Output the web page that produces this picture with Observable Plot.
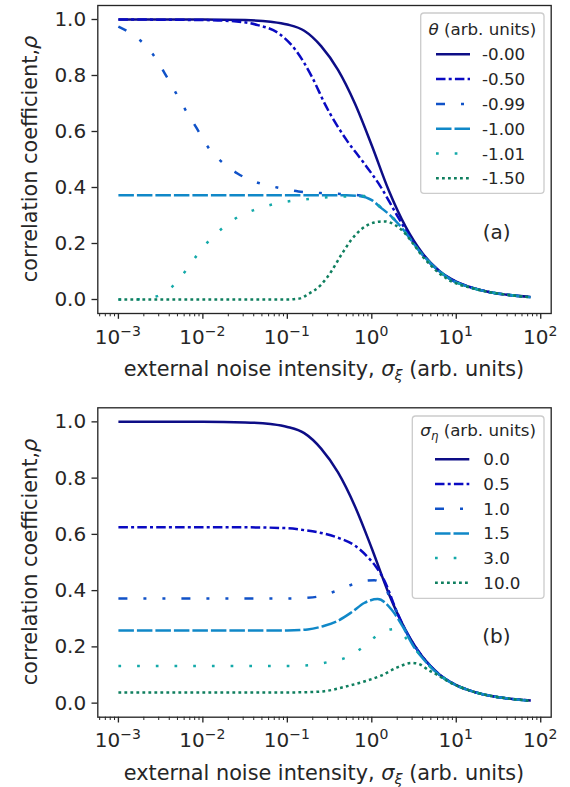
<!DOCTYPE html>
<html><head><meta charset="utf-8">
<script src="https://cdn.jsdelivr.net/npm/d3@7"></script>
<script src="https://cdn.jsdelivr.net/npm/@observablehq/plot@0.6"></script>
<style>
body{margin:0;background:#fff;}
#chart svg{display:block;}
</style></head><body><div id="chart"></div>
<script>
// ---------- data (x given as log10 of sigma_xi) ----------
const xMajor = [1e-3, 1e-2, 1e-1, 1, 10, 100];
const xMajorExp = ["\u22123", "\u22122", "\u22121", "0", "1", "2"];
const yTicks = [0, 0.2, 0.4, 0.6, 0.8, 1.0];

const thetaLabels = ["-0.00", "-0.50", "-0.99", "-1.00", "-1.01", "-1.50"];
const etaLabels = ["0.0", "0.5", "1.0", "1.5", "3.0", "10.0"];
const seriesColors = ["#0d0d86", "#0a0ac2", "#1052c8", "#1088c8", "#13a9a9", "#0f7f5f"];
const seriesDashes = [null, "9.5,3.2,3,3.2", "9,16,3,16,3,16", "15.5,3", "2.7,16", "2.8,3.2"];

// panel (a)
const a0_lx = [-3, -2, -1.5, -1.2, -1.0, -0.8, -0.6, -0.4, -0.2, 0, 0.2, 0.4, 0.6, 0.8, 1.0, 1.2, 1.4, 1.6, 1.88];
const a0_y  = [1.0, 1.0, 0.998, 0.992, 0.982, 0.96, 0.905, 0.82, 0.70, 0.55, 0.39, 0.26, 0.165, 0.102, 0.064, 0.041, 0.026, 0.017, 0.009];
const a1_lx = [-3, -2, -1.6, -1.35, -1.1, -0.9, -0.7, -0.55, -0.3, -0.1, 0.1, 0.3, 0.47, 0.6, 0.8, 1.0, 1.2, 1.4, 1.6, 1.88];
const a1_y  = [1.0, 0.998, 0.993, 0.98, 0.95, 0.89, 0.79, 0.695, 0.57, 0.49, 0.405, 0.30, 0.215, 0.16, 0.1, 0.063, 0.041, 0.026, 0.017, 0.009];
const a2_lx = [-3, -2.74, -2.59, -2.45, -2.32, -2.21, -2.07, -1.94, -1.79, -1.59, -1.35, -1.12, -0.87, -0.6, -0.37, -0.15, 0, 0.1, 0.23, 0.39, 0.55, 0.71, 0.9, 1.18, 1.4, 1.6, 1.88];
const a2_y  = [0.975, 0.925, 0.875, 0.807, 0.738, 0.679, 0.61, 0.545, 0.495, 0.45, 0.417, 0.40, 0.386, 0.38, 0.377, 0.372, 0.355, 0.33, 0.297, 0.243, 0.178, 0.125, 0.078, 0.042, 0.026, 0.017, 0.008];
const a3_lx = [-3, -1, -0.3, -0.15, 0, 0.1, 0.23, 0.39, 0.55, 0.71, 0.9, 1.18, 1.4, 1.6, 1.88];
const a3_y  = [0.372, 0.372, 0.372, 0.37, 0.355, 0.33, 0.297, 0.243, 0.178, 0.125, 0.078, 0.042, 0.026, 0.017, 0.008];
const a4_lx = [-3, -2.75, -2.54, -2.36, -2.21, -2.08, -1.94, -1.78, -1.6, -1.39, -1.17, -0.96, -0.74, -0.52, -0.29, -0.1, 0, 0.1, 0.23, 0.39, 0.55, 0.71, 0.9, 1.18, 1.4, 1.6, 1.88];
const a4_y  = [0.0, 0.001, 0.012, 0.047, 0.10, 0.154, 0.206, 0.252, 0.292, 0.32, 0.34, 0.352, 0.359, 0.365, 0.368, 0.37, 0.356, 0.331, 0.297, 0.243, 0.178, 0.125, 0.078, 0.042, 0.026, 0.017, 0.008];
const a5_lx = [-3, -1, -0.85, -0.76, -0.6, -0.48, -0.36, -0.24, -0.12, 0.03, 0.15, 0.27, 0.39, 0.5, 0.59, 0.71, 0.9, 1.18, 1.4, 1.6, 1.88];
const a5_y  = [0.0, 0.0, 0.004, 0.018, 0.053, 0.10, 0.16, 0.214, 0.252, 0.275, 0.279, 0.267, 0.237, 0.195, 0.158, 0.118, 0.072, 0.041, 0.026, 0.017, 0.008];

// panel (b)
const b0_lx = [-3, -2, -1.5, -1.2, -1.0, -0.8, -0.6, -0.4, -0.2, 0, 0.2, 0.4, 0.6, 0.8, 1.0, 1.2, 1.4, 1.6, 1.88];
const b0_y  = [1.0, 1.0, 0.998, 0.992, 0.982, 0.96, 0.905, 0.82, 0.70, 0.55, 0.39, 0.26, 0.165, 0.102, 0.064, 0.041, 0.026, 0.017, 0.009];
const b1_lx = [-3, -1.5, -1, -0.8, -0.6, -0.4, -0.2, -0.05, 0.05, 0.15, 0.3, 0.4, 0.6, 0.8, 1.0, 1.2, 1.4, 1.6, 1.88];
const b1_y  = [0.625, 0.625, 0.622, 0.615, 0.605, 0.588, 0.56, 0.52, 0.485, 0.435, 0.322, 0.258, 0.165, 0.102, 0.064, 0.041, 0.026, 0.017, 0.009];
const b2_lx = [-3, -1, -0.7, -0.45, -0.22, -0.05, 0.03, 0.1, 0.16, 0.22, 0.3, 0.4, 0.6, 0.8, 1.0, 1.2, 1.4, 1.6, 1.88];
const b2_y  = [0.372, 0.372, 0.376, 0.396, 0.423, 0.436, 0.437, 0.428, 0.41, 0.37, 0.322, 0.258, 0.165, 0.102, 0.064, 0.041, 0.026, 0.017, 0.009];
const b3_lx = [-3, -1, -0.76, -0.56, -0.4, -0.24, -0.09, 0.07, 0.23, 0.37, 0.49, 0.61, 0.8, 1.0, 1.2, 1.4, 1.6, 1.88];
const b3_y  = [0.258, 0.258, 0.262, 0.275, 0.293, 0.323, 0.356, 0.37, 0.334, 0.27, 0.204, 0.157, 0.1, 0.063, 0.041, 0.026, 0.017, 0.008];
const b4_lx = [-3, -1, -0.74, -0.52, -0.29, -0.1, 0.06, 0.18, 0.28, 0.43, 0.55, 0.7, 0.85, 1.0, 1.2, 1.4, 1.6, 1.88];
const b4_y  = [0.132, 0.132, 0.135, 0.146, 0.164, 0.2, 0.24, 0.26, 0.263, 0.222, 0.18, 0.126, 0.09, 0.063, 0.041, 0.026, 0.017, 0.008];
const b5_lx = [-3, -1, -0.76, -0.56, -0.32, -0.09, 0.11, 0.31, 0.47, 0.55, 0.67, 0.79, 0.9, 1.0, 1.2, 1.4, 1.6, 1.88];
const b5_y  = [0.038, 0.038, 0.039, 0.0425, 0.058, 0.077, 0.098, 0.128, 0.143, 0.14, 0.118, 0.098, 0.078, 0.063, 0.041, 0.026, 0.017, 0.008];

// ---------- drawing ----------
const FONT = "'DejaVu Sans', sans-serif";
const INK = "#262626";
const LEFT = 97.3, RIGHT = 550.7, W = 570;
const LABEL_SIZE = 20.8;

function rows(lx, y) { return lx.map((l, i) => ({x: Math.pow(10, l), y: y[i]})); }

function panel(cfg) {
  const minor = [];
  for (let k = -4; k <= 2; k++) for (let m = 2; m <= 9; m++) {
    const v = m * Math.pow(10, k);
    if (v > Math.pow(10, -3.244) && v < Math.pow(10, 2.124)) minor.push(v);
  }
  const plot = Plot.plot({
    width: W, height: cfg.height,
    marginLeft: LEFT, marginRight: W - RIGHT, marginTop: cfg.mt, marginBottom: cfg.mb,
    style: {fontFamily: FONT, color: INK, background: "white", overflow: "visible"},
    x: {type: "log", domain: [Math.pow(10, -3.244), Math.pow(10, 2.124)]},
    y: {domain: [-0.05, 1.05]},
    marks: [
      Plot.axisY({ticks: yTicks, tickFormat: d3.format(".1f"), tickSize: 5.8, tickPadding: 5.8,
                  fontSize: 20, label: null, strokeWidth: 1.33}),
      Plot.axisX({ticks: xMajor, tickSize: 5.8, tickFormat: () => "", label: null, strokeWidth: 1.33}),
      Plot.axisX({ticks: minor, tickSize: 3.3, tickFormat: () => "", label: null, strokeWidth: 1.0}),
      ...cfg.series.map((s, i) => Plot.line(rows(s[0], s[1]), {
        x: "x", y: "y", stroke: seriesColors[i], strokeWidth: 2.5,
        strokeDasharray: seriesDashes[i] || undefined, strokeLinecap: "butt", curve: "monotone-x"
      })),
      Plot.frame({stroke: INK, strokeWidth: 1.33}),
      Plot.text([cfg.tag], {text: d => d, frameAnchor: "bottom-right", dx: -40.7, dy: -74.5,
                textAnchor: "end", fontSize: 20, fill: INK})
    ]
  });
  const svg = d3.select(plot);
  const sx = plot.scale("x");
  const fb = cfg.height - cfg.mb;
  const ft = cfg.mt;
  // x tick labels with superscripts
  xMajor.forEach((v, i) => {
    const t = svg.append("text").attr("x", sx.apply(v)).attr("y", fb + 30.5)
      .attr("text-anchor", "middle").attr("font-size", 20).attr("fill", INK).attr("font-family", FONT);
    t.append("tspan").text("10");
    t.append("tspan").attr("font-size", 14).attr("dy", -8).text(xMajorExp[i]);
  });
  // x label
  const xl = svg.append("text").attr("x", (LEFT + RIGHT) / 2).attr("y", fb + 63)
    .attr("text-anchor", "middle").attr("font-size", LABEL_SIZE).attr("fill", INK).attr("font-family", FONT);
  xl.append("tspan").text("external noise intensity, ");
  xl.append("tspan").attr("font-style", "italic").text("\u03c3");
  xl.append("tspan").attr("font-style", "italic").attr("font-size", 14.5).attr("dy", 4).text("\u03be");
  xl.append("tspan").attr("dy", -4).text(" (arb. units)");
  // y label
  const yl = svg.append("text").attr("transform", `translate(37,${(ft + fb) / 2}) rotate(-90)`)
    .attr("text-anchor", "middle").attr("font-size", LABEL_SIZE).attr("fill", INK).attr("font-family", FONT);
  yl.append("tspan").text("correlation coefficient,");
  yl.append("tspan").attr("font-style", "italic").text("\u03c1");
  // legend
  const L = cfg.legend;
  const g = svg.append("g").attr("font-family", FONT).attr("fill", INK);
  g.append("rect").attr("x", L.x).attr("y", L.y).attr("width", L.w).attr("height", L.h)
    .attr("rx", 3.3).attr("fill", "white").attr("fill-opacity", 0.8)
    .attr("stroke", "#cccccc").attr("stroke-width", 1.33);
  const tt = g.append("text").attr("x", L.x + L.w / 2).attr("y", L.titleY)
    .attr("text-anchor", "middle").attr("font-size", 16.7);
  cfg.title(tt);
  cfg.labels.forEach((lab, i) => {
    const cy = L.y0 + L.step * i;
    g.append("line").attr("x1", L.lx1).attr("x2", L.lx2).attr("y1", cy).attr("y2", cy)
      .attr("stroke", seriesColors[i]).attr("stroke-width", 2.5)
      .attr("stroke-dasharray", seriesDashes[i]).attr("stroke-linecap", "butt");
    g.append("text").attr("x", L.tx).attr("y", cy + 6).attr("text-anchor", "start")
      .attr("font-size", 16.7).text(lab);
  });
  return plot;
}

const root = document.getElementById("chart");
root.append(panel({
  height: 402, mt: 5, mb: 89, tag: "(a)",
  series: [[a0_lx, a0_y], [a1_lx, a1_y], [a2_lx, a2_y], [a3_lx, a3_y], [a4_lx, a4_y], [a5_lx, a5_y]],
  labels: thetaLabels,
  legend: {x: 420.7, y: 13, w: 123.3, h: 180.3, titleY: 35, y0: 54.3, step: 24.8, lx1: 436, lx2: 470, tx: 482},
  title: t => { t.append("tspan").attr("font-style", "italic").text("\u03b8"); t.append("tspan").text(" (arb. units)"); }
}));
root.append(panel({
  height: 385, mt: 5.3, mb: 70.3, tag: "(b)",
  series: [[b0_lx, b0_y], [b1_lx, b1_y], [b2_lx, b2_y], [b3_lx, b3_y], [b4_lx, b4_y], [b5_lx, b5_y]],
  labels: etaLabels,
  legend: {x: 412.3, y: 14, w: 131.7, h: 182.3, titleY: 34, y0: 57.3, step: 24.7, lx1: 435, lx2: 469.3, tx: 483.3},
  title: t => {
    t.append("tspan").attr("font-style", "italic").text("\u03c3");
    t.append("tspan").attr("font-style", "italic").attr("font-size", 11.7).attr("dy", 3.5).text("\u03b7");
    t.append("tspan").attr("dy", -3.5).text(" (arb. units)");
  }
}));
</script></body></html>
